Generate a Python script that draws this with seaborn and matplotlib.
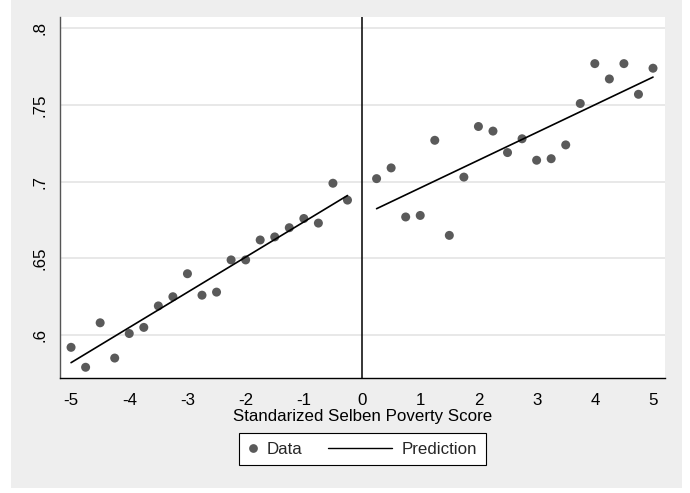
import matplotlib
matplotlib.use("Agg")
import matplotlib.pyplot as plt
import pandas as pd
import seaborn as sns
from matplotlib.lines import Line2D
from matplotlib.patches import Rectangle
from matplotlib.legend_handler import HandlerBase

# Binned means of the outcome by standardized poverty score
score_left = [-5.0, -4.75, -4.5, -4.25, -4.0, -3.75, -3.5, -3.25, -3.0, -2.75,
              -2.5, -2.25, -2.0, -1.75, -1.5, -1.25, -1.0, -0.75, -0.5, -0.25]
share_left = [0.592, 0.579, 0.608, 0.585, 0.601, 0.605, 0.619, 0.625, 0.640, 0.626,
              0.628, 0.649, 0.649, 0.662, 0.664, 0.670, 0.676, 0.673, 0.699, 0.688]
score_right = [0.25, 0.5, 0.75, 1.0, 1.25, 1.5, 1.75, 2.0, 2.25, 2.5,
               2.75, 3.0, 3.25, 3.5, 3.75, 4.0, 4.25, 4.5, 4.75, 5.0]
share_right = [0.702, 0.709, 0.677, 0.678, 0.727, 0.665, 0.703, 0.736, 0.733, 0.719,
               0.728, 0.714, 0.715, 0.724, 0.751, 0.777, 0.767, 0.777, 0.757, 0.774]

# Fitted linear predictions on each side of the cutoff
fit_left_x = [-5.0, -0.25]
fit_left_y = [0.582, 0.691]
fit_right_x = [0.25, 5.0]
fit_right_y = [0.6824, 0.7682]

x_ticks = [-5, -4, -3, -2, -1, 0, 1, 2, 3, 4, 5]
y_ticks = [0.60, 0.65, 0.70, 0.75, 0.80]
y_tick_labels = [".6", ".65", ".7", ".75", ".8"]

bins = pd.DataFrame({"score": score_left + score_right,
                     "share": share_left + share_right})

sns.set_theme(style="white")
plt.rcParams["font.family"] = ["Liberation Sans", "DejaVu Sans"]

FS = 12.2
W, H = 690, 493
fig = plt.figure(figsize=(W / 100, H / 100), dpi=100, facecolor="white")
fig.patches.append(Rectangle((11 / W, 5 / H), 671 / W, 488 / H,
                             transform=fig.transFigure, facecolor="#eeeeee",
                             edgecolor="none", zorder=-10))
ax = fig.add_axes([60 / W, 115 / H, 605 / W, 361 / H])
ax.set_facecolor("white")

dot_color = "#5a5a5a"
sns.scatterplot(data=bins, x="score", y="share", color=dot_color, s=42,
                edgecolor="none", legend=False, ax=ax, zorder=3)
sns.lineplot(x=fit_left_x, y=fit_left_y, color="black", lw=1.2, ax=ax, zorder=4)
sns.lineplot(x=fit_right_x, y=fit_right_y, color="black", lw=1.2, ax=ax, zorder=4)
ax.axvline(0, color="black", lw=1.1, zorder=2)

ax.set_xlim(-5.19, 5.206)
ax.set_ylim(0.572, 0.8074)
ax.set_xticks(x_ticks)
ax.set_xticklabels([str(t) for t in x_ticks])
ax.set_yticks(y_ticks)
ax.set_yticklabels(y_tick_labels, rotation=90, va="center")

ax.yaxis.grid(True, color="#e6e6e6", lw=1.3)
ax.xaxis.grid(False)
ax.set_axisbelow(True)

for side in ("top", "right"):
    ax.spines[side].set_visible(False)
ax.spines["left"].set_color("#555555")
ax.spines["left"].set_linewidth(1.0)
ax.spines["bottom"].set_color("black")
ax.spines["bottom"].set_linewidth(1.0)

ax.tick_params(axis="both", direction="out", length=5, width=0.8,
               labelsize=FS, labelcolor="black")
ax.tick_params(axis="x", color="black", pad=5.5)
ax.tick_params(axis="y", color="#555555", pad=4)
ax.set_xlabel("Standarized Selben Poverty Score", fontsize=FS, labelpad=0.8,
              color="black")
ax.set_ylabel("")


class ExtendedLineHandler(HandlerBase):
    """Draws the legend line so it reaches back into the column gap."""

    def create_artists(self, legend, orig_handle, xdescent, ydescent,
                       width, height, fontsize, trans):
        y = height / 2 - ydescent
        line = Line2D([-xdescent - 3.25 * fontsize, -xdescent + width - 0.18 * fontsize],
                      [y, y], color="black", lw=orig_handle.get_linewidth())
        line.set_transform(trans)
        return [line]


data_handle = Line2D([], [], marker="o", ls="none", color=dot_color,
                     markeredgecolor="none", markersize=6.3)
pred_handle = Line2D([], [], color="black", lw=1.0)
leg = fig.legend([data_handle, pred_handle], ["Data", "Prediction"],
                 handler_map={pred_handle: ExtendedLineHandler()},
                 loc="center", bbox_to_anchor=(362.5 / W, 1 - 449 / H), ncol=2,
                 frameon=True, fancybox=False, edgecolor="black", facecolor="white",
                 framealpha=1, handlelength=0.7, handletextpad=0.4,
                 columnspacing=4.8, fontsize=FS, borderpad=0.5)
leg.get_frame().set_linewidth(0.8)

fig.savefig("out.png", dpi=100, facecolor="white")
